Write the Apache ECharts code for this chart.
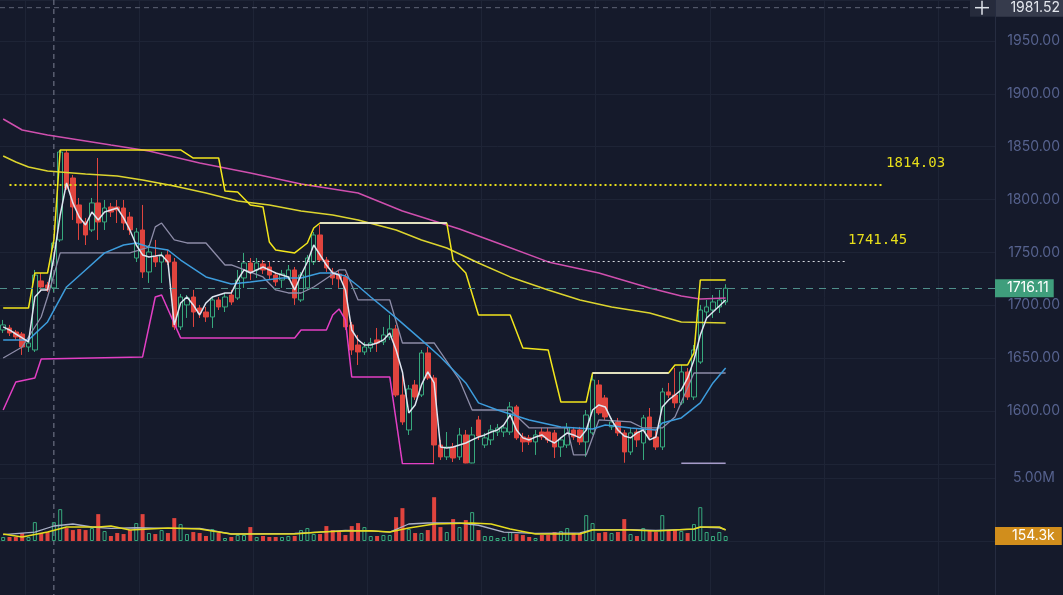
<!DOCTYPE html>
<html>
<head>
<meta charset="utf-8">
<title>candles</title>
<script src="https://cdn.jsdelivr.net/npm/echarts@6/dist/echarts.min.js"></script>
<style>
  html, body { margin: 0; padding: 0; background: #151a2b; }
  #chart { width: 1063px; height: 595px; }
</style>
</head>
<body>
<div id="chart"></div>
<script>
// one slot per candle, plus the empty room on the right of the last candle
const categories = Array.from({length: 157}, (_, i) => String(i));

// [open, close, low, high]
const candles = [
  [1676.6,1681.4,1673.8,1686.1],[1678.5,1673.8,1670.9,1681.4],[1674.7,1670.0,1667.2,1676.6],[1672.8,1660.5,1653.0,1674.7],
  [1660.5,1664.3,1655.8,1667.2],[1657.7,1728.6,1655.8,1733.4],[1723.0,1717.3,1714.5,1730.5],[1719.2,1714.5,1712.6,1722.1],
  [1716.4,1758.9,1712.6,1761.8],[1761.8,1845.0,1759.9,1846.9],[1844.1,1811.0,1809.1,1846.9],[1820.4,1793.0,1780.7,1823.3],
  [1794.9,1777.8,1761.8,1801.5],[1778.8,1766.5,1757.0,1782.6],[1771.2,1796.8,1769.3,1801.5],[1796.8,1778.8,1761.8,1839.3],
  [1778.8,1792.0,1771.2,1799.6],[1793.0,1788.2,1783.5,1796.8],[1793.0,1790.1,1777.8,1799.6],[1792.0,1777.8,1771.2,1799.6],
  [1783.5,1771.2,1766.5,1788.2],[1744.7,1769.3,1740.9,1773.1],[1771.2,1731.5,1725.8,1794.9],[1731.5,1750.4,1721.1,1757.0],
  [1745.7,1740.9,1736.2,1761.8],[1740.9,1746.6,1721.1,1750.4],[1747.6,1740.9,1738.1,1752.3],[1740.9,1679.5,1676.6,1744.7],
  [1679.5,1707.8,1676.6,1710.7],[1700.3,1706.9,1688.0,1709.7],[1707.8,1693.6,1679.5,1714.5],[1697.4,1692.7,1688.0,1700.3],
  [1693.6,1688.9,1684.2,1698.4],[1688.9,1705.0,1678.5,1707.8],[1705.0,1698.4,1695.5,1707.8],[1698.4,1707.8,1693.6,1711.6],
  [1709.7,1703.1,1700.3,1714.5],[1706.9,1723.9,1705.0,1733.4],[1725.8,1740.0,1716.4,1749.5],[1740.0,1731.5,1723.9,1744.7],
  [1733.4,1740.0,1725.8,1744.7],[1739.1,1733.4,1729.6,1742.8],[1736.2,1728.6,1723.9,1740.9],[1728.6,1722.1,1718.2,1731.5],
  [1723.9,1729.6,1716.4,1733.4],[1726.8,1733.4,1723.9,1738.1],[1733.4,1706.9,1700.3,1736.2],[1705.0,1728.6,1703.1,1731.5],
  [1716.4,1744.7,1714.5,1747.6],[1740.9,1766.5,1738.1,1769.3],[1766.5,1742.8,1740.9,1775.9],[1742.8,1735.3,1731.5,1745.7],
  [1731.5,1725.8,1719.2,1735.3],[1729.6,1724.9,1716.4,1733.4],[1726.8,1679.5,1676.6,1729.6],[1681.4,1657.7,1653.0,1684.2],
  [1662.4,1655.8,1643.5,1671.9],[1655.8,1660.5,1653.0,1665.3],[1659.6,1664.3,1655.8,1669.1],[1667.2,1664.3,1655.8,1678.5],
  [1665.3,1671.9,1662.4,1679.5],[1670.0,1677.6,1667.2,1690.8],[1677.6,1615.1,1613.2,1681.4],[1615.1,1589.6,1586.8,1634.1],
  [1582.0,1620.8,1577.3,1624.6],[1624.6,1613.2,1610.4,1629.3],[1615.1,1654.9,1613.2,1657.7],[1654.9,1631.2,1629.3,1660.5],
  [1631.2,1567.8,1550.8,1634.1],[1567.8,1556.5,1553.6,1572.6],[1556.5,1565.9,1553.6,1580.1],[1565.9,1555.5,1551.7,1569.7],
  [1556.5,1577.3,1553.6,1583.9],[1577.3,1550.8,1550.5,1582.0],[1550.8,1577.3,1550.5,1584.9],[1591.5,1576.3,1572.6,1595.3],
  [1567.8,1574.5,1565.0,1579.2],[1572.6,1582.0,1567.8,1586.8],[1580.1,1583.9,1576.3,1587.7],[1580.1,1583.9,1575.4,1586.8],
  [1580.1,1603.8,1577.3,1608.5],[1603.8,1574.5,1572.6,1605.7],[1575.4,1570.7,1561.2,1579.2],[1574.5,1570.7,1567.8,1577.3],
  [1570.7,1577.3,1558.4,1582.0],[1580.1,1575.4,1572.6,1583.9],[1580.1,1572.6,1569.7,1583.9],[1579.2,1565.9,1555.5,1582.0],
  [1565.9,1572.6,1556.5,1575.4],[1567.8,1583.9,1565.0,1588.6],[1582.0,1575.4,1572.6,1584.9],[1582.0,1570.7,1567.8,1584.9],
  [1570.7,1596.2,1556.5,1600.9],[1579.2,1629.3,1577.3,1634.1],[1624.6,1598.1,1596.2,1629.3],[1612.3,1594.3,1591.5,1615.1],
  [1584.9,1589.6,1582.0,1593.4],[1589.6,1579.2,1576.3,1593.4],[1579.2,1561.2,1551.0,1582.0],[1561.2,1579.2,1558.4,1583.9],
  [1580.1,1572.6,1565.9,1583.9],[1569.7,1593.4,1553.6,1596.2],[1594.3,1575.4,1572.6,1602.8],[1575.4,1565.9,1563.1,1582.0],
  [1565.9,1618.0,1563.1,1621.8],[1618.0,1615.1,1612.3,1626.5],[1615.1,1607.6,1602.8,1640.7],[1607.6,1636.9,1605.7,1643.5],
  [1636.9,1613.2,1610.4,1640.7],[1613.2,1657.7,1610.4,1662.4],[1646.3,1695.5,1644.5,1700.3],[1693.6,1698.4,1688.0,1705.0],
  [1695.5,1703.1,1688.0,1709.7],[1698.4,1705.0,1692.7,1714.5],[1703.1,1716.11,1700.3,1719.9]
];

// volume, thousands
const volumes = [
  316,316,316,632,316,1500,632,711,1500,2528,
  1027,869,948,869,1027,2133,790,395,632,553,
  869,1422,2133,632,553,869,632,1817,1343,553,
  711,632,395,948,632,237,316,474,474,1106,
  316,395,316,316,316,395,395,869,1027,553,
  553,1185,869,711,474,1185,1422,1106,395,395,
  474,474,1896,2607,948,632,632,869,3476,1106,
  711,1738,1106,1659,2291,869,395,395,237,316,
  711,553,474,316,237,474,474,711,790,1027,
  632,632,2054,1422,632,711,632,711,1738,553,
  395,1027,790,711,2054,869,869,790,632,1343,
  2686,711,395,711,395
];

// fast white average, one value per candle
const maFast = [
  1679.5,1676.6,1672.8,1669.1,1665.3,1707.8,1714.5,1714.5,1744.7,1785.4,
  1815.7,1796.8,1783.5,1775.9,1788.2,1780.7,1788.2,1790.1,1792.0,1782.6,
  1771.2,1757.0,1747.6,1745.7,1746.6,1747.6,1740.9,1681.4,1702.2,1707.8,
  1700.3,1690.8,1702.2,1707.8,1709.7,1711.6,1711.6,1723.9,1733.4,1730.5,
  1733.4,1736.2,1733.4,1730.5,1728.6,1726.8,1714.5,1728.6,1740.9,1757.0,
  1747.6,1738.1,1730.5,1728.6,1714.5,1676.6,1667.2,1662.4,1662.4,1664.3,
  1667.2,1673.8,1657.7,1636.9,1598.1,1605.7,1624.6,1636.9,1626.5,1565.9,
  1565.0,1565.9,1567.8,1569.7,1572.6,1575.4,1577.3,1580.1,1582.0,1586.8,
  1596.2,1582.0,1574.5,1572.6,1575.4,1577.3,1572.6,1569.7,1574.5,1579.2,
  1577.3,1574.5,1582.0,1600.9,1605.7,1603.8,1591.5,1582.0,1576.3,1574.5,
  1579.2,1582.0,1572.6,1575.4,1603.8,1610.4,1615.1,1619.9,1631.2,1648.2,
  1671.9,1688.0,1693.6,1699.3,1705.0
];

// other indicator lines as [candle index, price]
const maBlue = [[0,1667.2],[4,1667.2],[7,1684.2],[10,1717.3],[13,1733.4],[16,1749.5],[19,1757.0],[21,1758.9],[23,1755.1],
  [26,1752.3],[28,1742.8],[32,1726.8],[36,1720.1],[39,1722.0],[44,1725.8],[47,1725.8],[50,1730.5],[52,1730.5],[54,1727.7],
  [56,1718.2],[58,1707.8],[62,1688.0],[66,1667.2],[69,1651.1],[73,1626.5],[75,1607.6],[78,1600.9],[83,1591.5],[88,1584.9],
  [93,1583.0],[95,1586.7],[99,1583.9],[103,1582.0],[104,1588.6],[107,1593.4],[110,1607.6],[112,1626.5],[114,1640.7]];
const maPink = [[0,1876.2],[3,1865.8],[7,1861.1],[17,1851.6],[23,1846.0],[31,1834.6],[39,1825.1],[47,1814.7],[56,1806.2],
  [63,1789.2],[72,1772.2],[78,1758.9],[86,1741.0],[94,1730.5],[102,1716.4],[107,1708.8],[110,1706.0],[114,1706.9]];
const maYellow = [[0,1841.2],[2,1835.5],[4,1830.8],[7,1827.0],[13,1824.2],[18,1822.3],[22,1818.5],[27,1812.8],[32,1806.2],
  [37,1798.7],[42,1794.9],[47,1789.2],[52,1785.4],[56,1780.7],[62,1771.2],[66,1761.8],[70,1754.2],[75,1740.0],[80,1726.8],
  [86,1714.5],[91,1705.0],[96,1698.4],[102,1692.7],[107,1684.2],[114,1683.2]];
const upperBand = [[0,1697.4],[4,1697.4],[5,1730.5],[7,1730.5],[8,1761.8],[9,1846.9],[28,1846.9],[30,1839.3],[34,1839.3],
  [35,1808.1],[37,1807.2],[39,1794.9],[41,1793.0],[42,1759.9],[43,1752.3],[46,1749.5],[48,1758.9],[49,1773.1],[50,1777.8],
  [70,1777.8],[71,1742.8],[73,1730.5],[75,1690.8],[80,1690.8],[82,1659.6],[86,1657.7],[88,1608.5],[92,1608.5],[93,1635.9],
  [105,1635.9],[106,1643.5],[108,1643.5],[109,1654.9],[110,1723.9],[114,1723.9]];
const upperShort = [[50,1777.8],[70,1777.8],[80,'-'],[93,1635.9],[105,1635.9]];
const lowerBand = [[0,1600.9],[2,1627.4],[5,1631.2],[6,1649.2],[22,1651.1],[24,1707.8],[25,1709.7],[28,1669.1],[46,1669.1],
  [47,1676.6],[51,1676.6],[52,1690.8],[53,1696.5],[54,1686.1],[55,1632.2],[61,1632.2],[63,1550],[68,1550]];
const baseLine = [[0,1650.1],[3,1660.5],[6,1688.9],[7,1707.8],[9,1749.5],[20,1749.5],[23,1755.1],[24,1774.1],[25,1777.8],
  [27,1761.8],[29,1758.9],[32,1758.9],[35,1738.1],[36,1738.1],[41,1726.8],[43,1714.5],[45,1711.6],[47,1711.6],[49,1717.3],
  [53,1733.4],[54,1733.4],[56,1705.0],[61,1705.0],[63,1664.3],[68,1664.3],[72,1629.3],[74,1600.9],[80,1600.9],[83,1583.9],
  [89,1583.9],[90,1558.4],[92,1558.4],[94,1591.5],[99,1589.6],[101,1583.9],[104,1583.9],[106,1594.3],[109,1635.9],[114,1635.9]];
const lowerShort = [[107,1550.5],[114,1550.5]];

// volume averages, thousands
const volMaYellow = [[0,556],[3,318],[7,715],[10,1112],[15,1112],[17,1191],[20,873],[26,1032],[31,953],[36,556],[46,556],
  [50,715],[54,794],[58,820],[61,715],[64,1032],[68,1350],[74,1429],[77,1350],[80,953],[84,556],[91,556],[93,873],[99,873],
  [103,794],[109,953],[110,1112],[113,1112],[114,873]];
const volMaGray = [[0,500],[5,700],[8,1190],[11,1350],[14,1110],[17,1000],[21,1050],[26,1000],[31,1000],[36,556],[46,600],
  [50,700],[54,850],[58,800],[61,700],[64,1350],[67,1429],[72,1429],[75,1250],[79,700],[84,600],[91,650],[93,900],[99,900],
  [103,850],[109,950],[110,1100],[113,1050],[114,900]];

const priceTicks = [1600, 1650, 1700, 1750, 1800, 1850, 1900, 1950];
const PRICE_MIN = 1550, PRICE_MAX = 1988.79;
const LAST_PRICE = 1716.11;
const LEVEL_A = 1814.03, LEVEL_A_FROM = 1, LEVEL_A_TO = 139;
const LEVEL_B = 1741.45, LEVEL_B_FROM = 37, LEVEL_B_TO = 133;
const CROSS_PRICE = 1981.52, CROSS_INDEX = 8;
const VOL_LABEL = '154.3k';

const BG = '#151a2b';
const GRID = '#1e2436';
const UP = '#37a97d';
const DOWN = '#e0443e';
const AXIS_TXT = '#56628e';
const FONT = 'Inter';

const chart = echarts.init(document.getElementById('chart'));

const volumeItems = volumes.map((v, i) => {
  const up = candles[i][1] >= candles[i][0];
  return {
    value: v,
    itemStyle: up
      ? {color: 'rgba(0,0,0,0)', borderColor: UP, borderWidth: 1}
      : {color: DOWN, borderColor: DOWN, borderWidth: 0}
  };
});

function line(name, data, color, width, xi, yi, z) {
  return {
    name: name, type: 'line', data: data, xAxisIndex: xi, yAxisIndex: yi,
    symbol: 'none', showSymbol: false, connectNulls: false, silent: true, z: z || 3,
    lineStyle: {color: color, width: width}
  };
}

function xAxisFor(g) {
  return {
    type: 'category', gridIndex: g, data: categories, boundaryGap: true,
    axisLine: {show: false}, axisTick: {show: false}, axisLabel: {show: false},
    splitLine: g === 2
      ? {show: true, interval: (idx) => idx % 18 === 4, lineStyle: {color: GRID, width: 1}}
      : {show: false}
  };
}

// label sitting above the right end of a level line
function levelLabel(value) {
  return {
    position: 'end', distance: 2,
    formatter: () => '{t|' + value.toFixed(2) + '}\n{s|}',
    rich: {
      t: {color: '#e8df1a', fontFamily: 'DejaVu Sans Mono', fontSize: 14, lineHeight: 14},
      s: {lineHeight: 42}
    }
  };
}

chart.setOption({
  backgroundColor: BG,
  animation: false,
  grid: [
    {left: 0, right: 68, top: 0, height: 463.8},
    {left: 0, right: 68, top: 478, height: 63},
    {left: 0, right: 68, top: 0, bottom: 0}
  ],
  xAxis: [xAxisFor(0), xAxisFor(1), xAxisFor(2)],
  yAxis: [
    {
      gridIndex: 0, position: 'right', min: PRICE_MIN, max: PRICE_MAX, interval: 50,
      axisLine: {show: false}, axisTick: {show: false},
      splitLine: {lineStyle: {color: GRID}},
      axisLabel: {
        color: AXIS_TXT, fontFamily: FONT, fontSize: 14, align: 'right', margin: 65,
        showMaxLabel: false,
        formatter: (v) => priceTicks.indexOf(v) >= 0 ? v.toFixed(2) : ''
      }
    },
    {
      gridIndex: 1, position: 'right', min: 0, max: 5000, interval: 5000,
      axisLine: {show: false}, axisTick: {show: false},
      splitLine: {lineStyle: {color: GRID}},
      axisLabel: {
        color: AXIS_TXT, fontFamily: FONT, fontSize: 14, align: 'right', margin: 60,
        formatter: (v) => v === 5000 ? '5.00M' : ''
      }
    },
    {gridIndex: 2, show: false, min: 0, max: 1}
  ],
  series: [
    {
      name: 'price', type: 'candlestick', data: candles, xAxisIndex: 0, yAxisIndex: 0,
      barWidth: 5, z: 2, silent: true,
      itemStyle: {color: 'rgba(0,0,0,0)', color0: DOWN, borderColor: UP, borderColor0: DOWN, borderWidth: 1},
      markLine: {
        silent: true, symbol: ['none', 'none'], animation: false,
        data: [
          {
            yAxis: LAST_PRICE,
            lineStyle: {color: '#4f8f8b', type: [7, 6], width: 1.2},
            label: {
              position: 'end', distance: 0, formatter: () => LAST_PRICE.toFixed(2),
              color: '#ffffff', backgroundColor: '#3f9e7c', fontFamily: FONT, fontSize: 14,
              padding: [2, 5, 2, 12]
            }
          },
          [
            {coord: [categories[LEVEL_A_FROM], LEVEL_A],
             lineStyle: {color: '#e8df1a', type: [2, 3], width: 2},
             label: levelLabel(LEVEL_A)},
            {coord: [categories[LEVEL_A_TO], LEVEL_A]}
          ],
          [
            {coord: [categories[LEVEL_B_FROM], LEVEL_B],
             lineStyle: {color: '#d6d9e0', type: [2, 3], width: 1},
             label: levelLabel(LEVEL_B)},
            {coord: [categories[LEVEL_B_TO], LEVEL_B]}
          ]
        ]
      }
    },
    line('pink MA', maPink, '#cf4fae', 1.5, 0, 0),
    line('yellow MA', maYellow, '#dcd42e', 1.5, 0, 0),
    line('upper band', upperBand, '#f2e51c', 1.5, 0, 0),
    line('upper short', upperShort, '#eef0f4', 1.5, 0, 0, 4),
    line('lower band', lowerBand, '#e23fc4', 1.5, 0, 0),
    line('base', baseLine, '#8d8ca8', 1.3, 0, 0),
    line('lower short', lowerShort, '#a69bc9', 1.5, 0, 0),
    line('blue MA', maBlue, '#3d9cdc', 1.5, 0, 0),
    line('fast MA', maFast, '#dfe5f0', 1.5, 0, 0, 5),
    {
      name: 'volume', type: 'bar', data: volumeItems, xAxisIndex: 1, yAxisIndex: 1,
      barWidth: 4, silent: true, z: 2,
      markLine: {
        silent: true, symbol: ['none', 'none'], animation: false,
        data: [{
          yAxis: volumes[volumes.length - 1],
          lineStyle: {color: 'rgba(0,0,0,0)', width: 0},
          label: {
            show: true, position: 'end', distance: 0, formatter: () => VOL_LABEL,
            color: '#ffffff', backgroundColor: '#d18e1c', fontFamily: FONT, fontSize: 14,
            padding: [2, 7, 2, 17]
          }
        }]
      }
    },
    line('vol MA gray', volMaGray, '#aab0c6', 1.3, 1, 1),
    line('vol MA yellow', volMaYellow, '#e6dc1e', 1.5, 1, 1, 4)
  ]
});

// crosshair and right-hand axis frame
const cx = chart.convertToPixel({xAxisIndex: 0}, categories[CROSS_INDEX]);
const cy = chart.convertToPixel({yAxisIndex: 0}, CROSS_PRICE);

chart.setOption({
  graphic: [
    {type: 'line', shape: {x1: 995.5, y1: 0, x2: 995.5, y2: 595}, style: {stroke: '#262c40', lineWidth: 1}, silent: true},
    {type: 'line', shape: {x1: cx, y1: 0, x2: cx, y2: 595}, style: {stroke: '#7c8193', lineWidth: 1, lineDash: [5, 4]}, silent: true},
    {type: 'line', shape: {x1: 0, y1: cy, x2: 970, y2: cy}, style: {stroke: '#5f6476', lineWidth: 1, lineDash: [5, 4]}, silent: true},
    {type: 'rect', shape: {x: 970, y: cy - 9, width: 25, height: 18}, style: {fill: '#262b3c'}, silent: true},
    {type: 'line', shape: {x1: 975, y1: cy, x2: 989, y2: cy}, style: {stroke: '#dfe3ea', lineWidth: 1.5}, silent: true},
    {type: 'line', shape: {x1: 982, y1: cy - 7, x2: 982, y2: cy + 7}, style: {stroke: '#dfe3ea', lineWidth: 1.5}, silent: true},
    {type: 'rect', shape: {x: 996, y: cy - 9, width: 67, height: 18}, style: {fill: '#363b4c'}, silent: true},
    {type: 'text', x: 1060, y: cy, silent: true,
     style: {text: CROSS_PRICE.toFixed(2), fill: '#e4e7ee', font: '14px ' + FONT, align: 'right', verticalAlign: 'middle'}}
  ]
});
</script>
</body>
</html>
